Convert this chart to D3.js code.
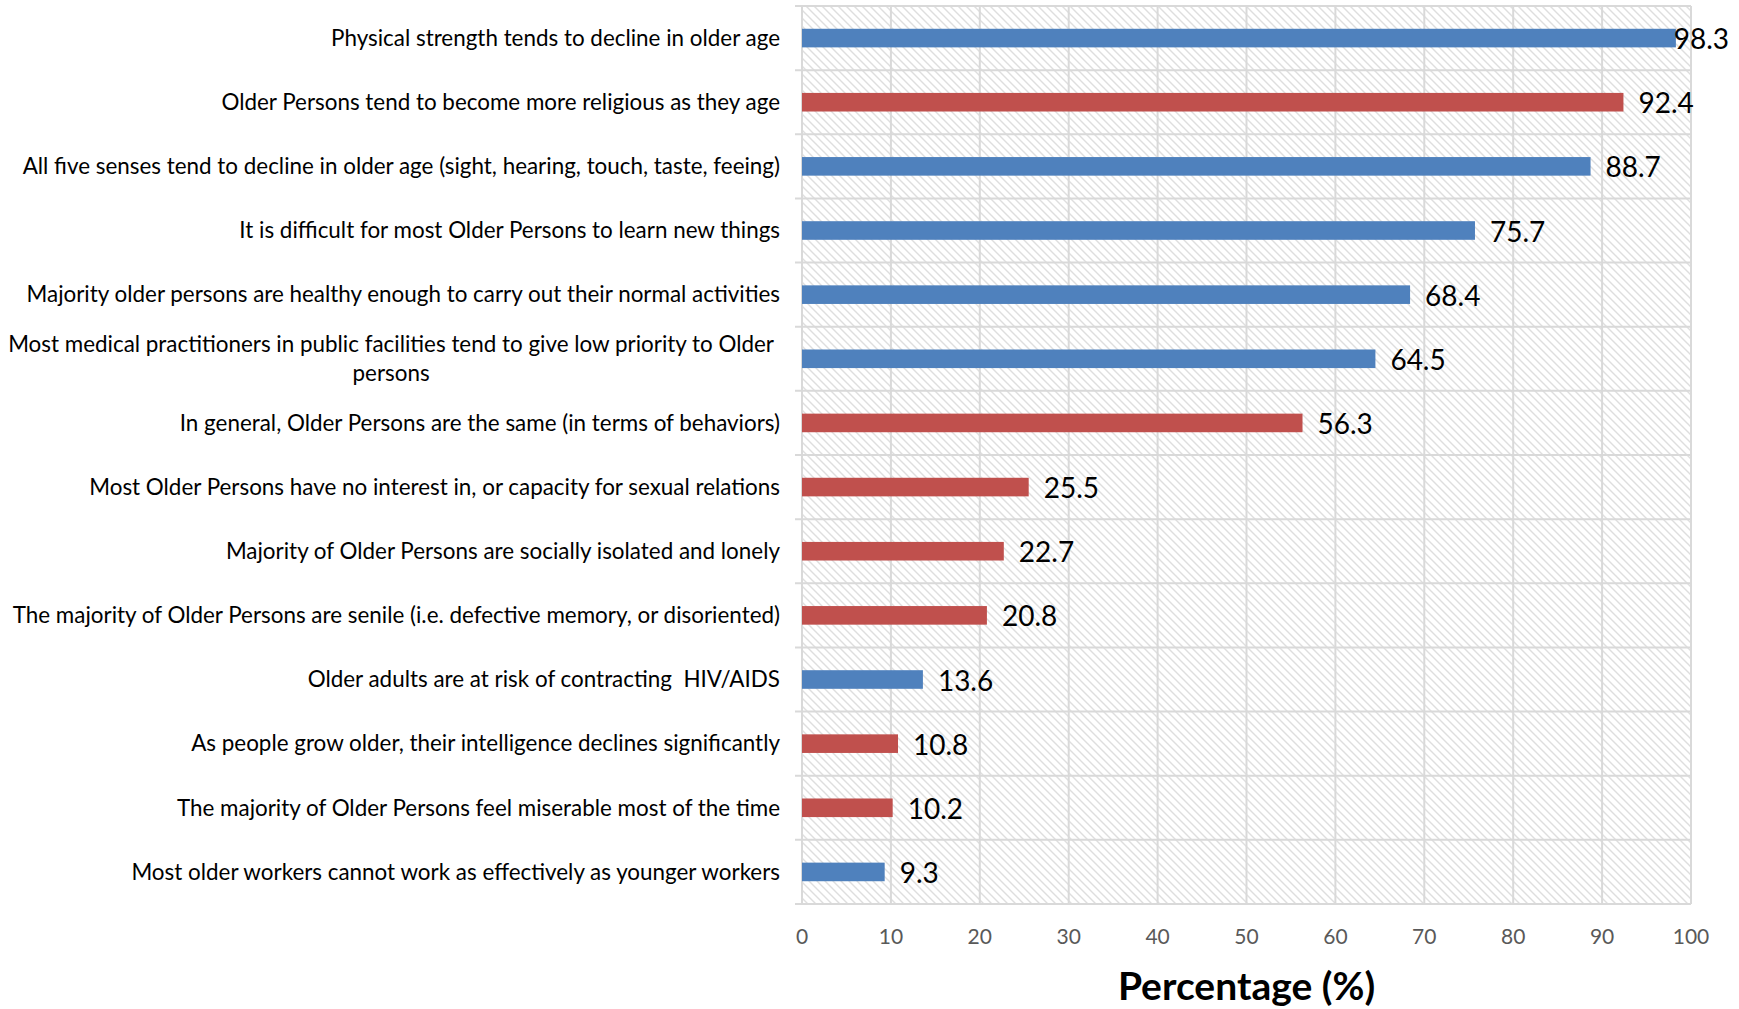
<!DOCTYPE html>
<html>
<head>
<meta charset="utf-8">
<script src="https://cdn.jsdelivr.net/npm/d3@7"></script>
<style>
  html, body { margin: 0; padding: 0; background: #ffffff; }
  svg { display: block; }
  text { white-space: pre; }
</style>
</head>
<body>
<svg id="chart" width="1739" height="1009"></svg>
<script>
// Statements about older persons, top to bottom
const categories = [
  "Physical strength tends to decline in older age",
  "Older Persons tend to become more religious as they age",
  "All five senses tend to decline in older age (sight, hearing, touch, taste, feeing)",
  "It is difficult for most Older Persons to learn new things",
  "Majority older persons are healthy enough to carry out their normal activities",
  "Most medical practitioners in public facilities tend to give low priority to Older persons",
  "In general, Older Persons are the same (in terms of behaviors)",
  "Most Older Persons have no interest in, or capacity for sexual relations",
  "Majority of Older Persons are socially isolated and lonely",
  "The majority of Older Persons are senile (i.e. defective memory, or disoriented)",
  "Older adults are at risk of contracting  HIV/AIDS",
  "As people grow older, their intelligence declines significantly",
  "The majority of Older Persons feel miserable most of the time",
  "Most older workers cannot work as effectively as younger workers"
];
// Percentage of respondents agreeing with each statement
const values = [98.3, 92.4, 88.7, 75.7, 68.4, 64.5, 56.3, 25.5, 22.7, 20.8, 13.6, 10.8, 10.2, 9.3];
// Statement type: fact or myth (bar colour)
const groups = ["fact", "myth", "fact", "fact", "fact", "fact", "myth", "myth", "myth", "myth", "fact", "myth", "myth", "fact"];
const xTicks = [0, 10, 20, 30, 40, 50, 60, 70, 80, 90, 100];
const axisTitle = "Percentage (%)";

const W = 1739, H = 1009;
const plot = { left: 802, right: 1691, top: 6, bottom: 904 };
const colors = { fact: "#4F81BD", myth: "#C0504D" };
const gridColor = "#d9d9d9";
const FONT = "Lato, 'Open Sans', 'Noto Sans', sans-serif";

const svg = d3.select("#chart");
const defs = svg.append("defs");

// Light diagonal hatching behind the bars
const pat = defs.append("pattern")
  .attr("id", "hatch")
  .attr("patternUnits", "userSpaceOnUse")
  .attr("width", 8).attr("height", 8);
pat.append("rect").attr("width", 8).attr("height", 8).attr("fill", "#ffffff");
pat.append("path")
  .attr("d", "M-2,-2 L10,10 M-2,6 L2,10 M6,-2 L10,2")
  .attr("stroke", "#dedede")
  .attr("stroke-width", 1.4);

const x = d3.scaleLinear().domain([0, 100]).range([plot.left, plot.right]);
const pad = 0.71;
const y = d3.scaleBand()
  .domain(categories)
  .range([plot.top, plot.bottom])
  .paddingInner(pad)
  .paddingOuter(pad / 2);
const step = y.step();

// Plot background
svg.append("rect")
  .attr("x", plot.left).attr("y", plot.top)
  .attr("width", plot.right - plot.left).attr("height", plot.bottom - plot.top)
  .attr("fill", "url(#hatch)");

// Vertical gridlines
svg.append("g").selectAll("line")
  .data(xTicks)
  .join("line")
  .attr("x1", d => x(d)).attr("x2", d => x(d))
  .attr("y1", plot.top).attr("y2", plot.bottom)
  .attr("stroke", gridColor).attr("stroke-width", 2);

// Horizontal row boundaries, extending left as tick marks
const bounds = d3.range(categories.length + 1).map(i => plot.top + i * step);
svg.append("g").selectAll("line")
  .data(bounds)
  .join("line")
  .attr("x1", plot.left - 7).attr("x2", plot.right)
  .attr("y1", d => d).attr("y2", d => d)
  .attr("stroke", gridColor).attr("stroke-width", 2);

// Bars
const rows = categories.map((c, i) => ({ c, v: values[i], g: groups[i] }));
svg.append("g").selectAll("rect")
  .data(rows)
  .join("rect")
  .attr("x", x(0))
  .attr("y", d => y(d.c))
  .attr("width", d => x(d.v) - x(0))
  .attr("height", y.bandwidth())
  .attr("fill", d => colors[d.g]);

// Value labels
const vl = svg.append("g").selectAll("text")
  .data(rows)
  .join("text")
  .attr("y", d => y(d.c) + y.bandwidth() / 2 + 1)
  .attr("dy", "0.36em")
  .attr("font-family", FONT)
  .attr("font-size", 28)
  .attr("fill", "#000")
  .text(d => d.v.toFixed(1));
vl.each(function (d) {
  const w = this.getComputedTextLength();
  const px = Math.min(x(d.v) + 15, W - 10 - w);
  d3.select(this).attr("x", px);
});

// Category labels (right aligned, wrapped when too long)
const labelRight = 780;
const maxLabelW = 768;
const lg = svg.append("g").attr("font-family", FONT).attr("fill", "#000");
// fit label size to the available width using the longest one-line statement
const probe = lg.append("text").attr("font-size", 22)
  .text("The majority of Older Persons are senile (i.e. defective memory, or disoriented)");
const labelSize = 22 * maxLabelW / probe.node().getComputedTextLength();
probe.remove();

rows.forEach(d => {
  const cy = y(d.c) + y.bandwidth() / 2;
  const t = lg.append("text").attr("font-size", labelSize).text(d.c);
  const full = t.node().getComputedTextLength();
  if (full <= maxLabelW + 4) {
    t.attr("x", labelRight).attr("y", cy).attr("dy", "0.35em").attr("text-anchor", "end");
  } else {
    // greedy word wrap
    const words = d.c.split(" ");
    const lines = [];
    let cur = "";
    words.forEach(w => {
      const test = cur ? cur + " " + w : w;
      t.text(test);
      if (t.node().getComputedTextLength() > maxLabelW && cur) {
        lines.push(cur);
        cur = w;
      } else cur = test;
    });
    lines.push(cur);
    t.text(lines[0]);
    const w0 = t.node().getComputedTextLength();
    t.text(null);
    const cx = labelRight - 6 - w0 / 2;
    const lh = labelSize * 1.3;
    lines.forEach((ln, k) => {
      t.append("tspan")
        .attr("x", cx)
        .attr("y", cy + (k - (lines.length - 1) / 2) * lh)
        .attr("dy", "0.35em")
        .text(ln);
    });
    t.attr("text-anchor", "middle");
  }
});

// X axis tick labels
svg.append("g").selectAll("text")
  .data(xTicks)
  .join("text")
  .attr("x", d => x(d))
  .attr("y", 937)
  .attr("dy", "0.35em")
  .attr("text-anchor", "middle")
  .attr("font-family", FONT)
  .attr("font-size", 21)
  .attr("fill", "#595959")
  .text(d => d);

// Axis title
svg.append("text")
  .attr("x", (plot.left + plot.right) / 2)
  .attr("y", 1000)
  .attr("text-anchor", "middle")
  .attr("font-family", FONT)
  .attr("font-weight", "bold")
  .attr("font-size", 39)
  .attr("fill", "#000")
  .text(axisTitle);
</script>
</body>
</html>
